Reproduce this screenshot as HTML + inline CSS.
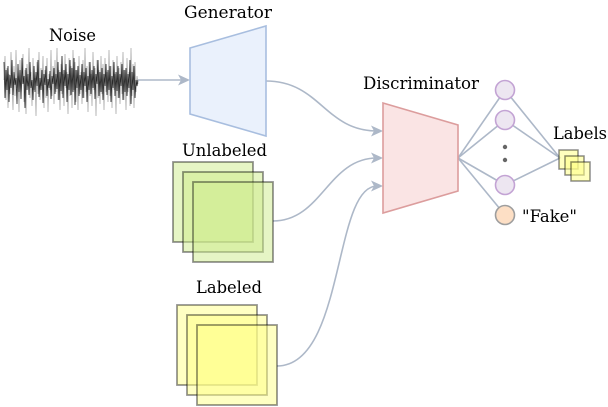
<!DOCTYPE html>
<html>
<head>
<meta charset="utf-8">
<style>
html,body{margin:0;padding:0;background:#fff;}
svg{display:block;}
text{font-family:"DejaVu Serif","Liberation Serif",serif;font-size:17px;fill:#000;}
</style>
</head>
<body>
<svg width="608" height="407" viewBox="0 0 608 407" xmlns="http://www.w3.org/2000/svg">
  <!-- Noise -->
  <polyline fill="none" stroke="#999" stroke-opacity="0.75" stroke-width="0.9" points="4,80 5,56 6,100 7,68 8,108 9,74 10,94 11,52 12,84 13,110 14,66 15,96 16,50 17,88 18,76 19,112 20,60 21,92 22,82 23,54 24,102 25,70 26,114 27,64 28,86 29,48 30,98 31,72 32,106 33,58 34,90 35,78 36,116 37,62 38,94 39,52 40,100 41,68 42,86 43,56 44,108 45,70 46,98 47,58 48,112 49,74 50,90 51,50 52,96 53,66 54,104 55,60 56,92 57,48 58,100 59,70 60,110 61,64 62,94 63,74 64,106 65,54 66,88 67,72 68,114 69,58 70,96 71,66 72,108 73,50 74,90 75,62 76,102 77,70 78,110 79,56 80,94 81,72 82,104 83,60 84,98 85,48 86,92 87,66 88,112 89,62 90,96 91,74 92,106 93,52 94,90 95,68 96,116 97,60 98,98 99,70 100,104 101,56 102,94 103,64 104,110 105,58 106,92 107,72 108,102 109,50 110,96 111,66 112,108 113,60 114,90 115,74 116,114 117,56 118,98 119,68 120,104 121,62 122,94 123,52 124,100 125,70 126,110 127,58 128,92 129,72 130,106 131,48 132,96 133,64 134,108 135,62 136,92 137,76 138,84"/>
  <polyline fill="none" stroke="#111" stroke-opacity="0.85" stroke-width="0.9" points="4,62 5,98 6,70 7,90 8,66 9,102 10,75 11,88 12,60 13,95 14,72 15,85 16,78 17,104 18,64 19,92 20,70 21,99 22,58 23,84 24,76 25,108 26,68 27,90 28,74 29,95 30,62 31,88 32,80 33,100 34,66 35,92 36,72 37,86 38,60 39,97 40,78 41,90 42,70 43,103 44,74 45,85 46,66 47,96 48,79 49,88 50,71 51,99 52,76 53,84 54,68 55,94 56,74 57,89 58,62 59,100 60,72 61,91 62,56 63,98 64,70 65,86 66,64 67,102 68,74 69,90 70,60 71,95 72,68 73,92 74,58 75,105 76,70 77,88 78,66 79,96 80,75 81,90 82,64 83,98 84,72 85,86 86,68 87,102 88,76 89,90 90,62 91,94 92,70 93,88 94,66 95,99 96,74 97,84 98,60 99,96 100,72 101,92 102,68 103,100 104,74 105,86 106,64 107,95 108,70 109,90 110,66 111,102 112,76 113,88 114,62 115,96 116,72 117,91 118,66 119,98 120,74 121,86 122,64 123,100 124,70 125,92 126,68 127,96 128,74 129,88 130,60 131,104 132,72 133,90 134,66 135,98 136,80 137,86 138,80"/>

  <!-- Connectors -->
  <g fill="none" stroke="#adb8c8" stroke-width="1.6">
    <line x1="138" y1="80" x2="182" y2="80"/>
    <path d="M266,81 C320,81 325,131 377,131"/>
    <path d="M273,221 C322,221 328,158 377,158"/>
    <path d="M277,366 C345,366 333,186 377,186"/>
    <line x1="458" y1="158" x2="505" y2="90"/>
    <line x1="458" y1="158" x2="505" y2="120"/>
    <line x1="458" y1="158" x2="505" y2="185"/>
    <line x1="458" y1="158" x2="505" y2="215"/>
    <line x1="505" y1="90" x2="560" y2="158"/>
    <line x1="505" y1="120" x2="560" y2="158"/>
    <line x1="505" y1="185" x2="560" y2="158"/>
  </g>
  <g fill="#adb8c8">
    <path d="M190,80 L178,74.5 L181,80 L178,85.5 Z"/>
    <path d="M383,131 L371,125.5 L374,131 L371,136.5 Z"/>
    <path d="M383,158 L371,152.5 L374,158 L371,163.5 Z"/>
    <path d="M383,186 L371,180.5 L374,186 L371,191.5 Z"/>
  </g>

  <!-- Generator -->
  <polygon points="190,48 266,26 266,136 190,114" fill="#eaf1fc" stroke="#a8bedf" stroke-width="1.6"/>
  <!-- Discriminator -->
  <polygon points="383,103 458,125 458,191 383,213" fill="#fae4e4" stroke="#dc9d9d" stroke-width="1.6"/>

  <!-- Unlabeled squares -->
  <g fill="#cdeb8b" fill-opacity="0.5" stroke="#000" stroke-opacity="0.42" stroke-width="1.8">
    <rect x="173" y="162" width="80" height="80"/>
    <rect x="183" y="172" width="80" height="80"/>
    <rect x="193" y="182" width="80" height="80"/>
  </g>
  <!-- Labeled squares -->
  <g fill="#ffff88" fill-opacity="0.5" stroke="#000" stroke-opacity="0.42" stroke-width="1.8">
    <rect x="177" y="305" width="80" height="80"/>
    <rect x="187" y="315" width="80" height="80"/>
    <rect x="197" y="325" width="80" height="80"/>
  </g>
  <!-- Labels small squares -->
  <g fill="#ffff88" fill-opacity="0.55" stroke="#000" stroke-opacity="0.45" stroke-width="1.5">
    <rect x="559" y="150" width="19" height="19"/>
    <rect x="565" y="156" width="19" height="19"/>
    <rect x="571" y="162" width="19" height="19"/>
  </g>

  <!-- Neurons -->
  <g fill="#ede6f1" stroke="#c3a3d4" stroke-width="1.6">
    <circle cx="505" cy="90" r="9.5"/>
    <circle cx="505" cy="120" r="9.5"/>
    <circle cx="505" cy="185" r="9.5"/>
  </g>
  <circle cx="505" cy="215" r="9.5" fill="#fddfc5" stroke="#9e9e9e" stroke-width="1.6"/>
  <circle cx="505" cy="147" r="2.2" fill="#666"/>
  <circle cx="505" cy="160" r="2.2" fill="#666"/>

  <!-- Text -->
  <text x="49" y="41" textLength="47" lengthAdjust="spacingAndGlyphs">Noise</text>
  <text x="184" y="18" textLength="88" lengthAdjust="spacingAndGlyphs">Generator</text>
  <text x="363" y="89" textLength="116" lengthAdjust="spacingAndGlyphs">Discriminator</text>
  <text x="553" y="139" textLength="54" lengthAdjust="spacingAndGlyphs">Labels</text>
  <text x="522" y="222" textLength="55" lengthAdjust="spacingAndGlyphs">"Fake"</text>
  <text x="182" y="156" textLength="85" lengthAdjust="spacingAndGlyphs">Unlabeled</text>
  <text x="196" y="293" textLength="66" lengthAdjust="spacingAndGlyphs">Labeled</text>
</svg>
</body>
</html>
